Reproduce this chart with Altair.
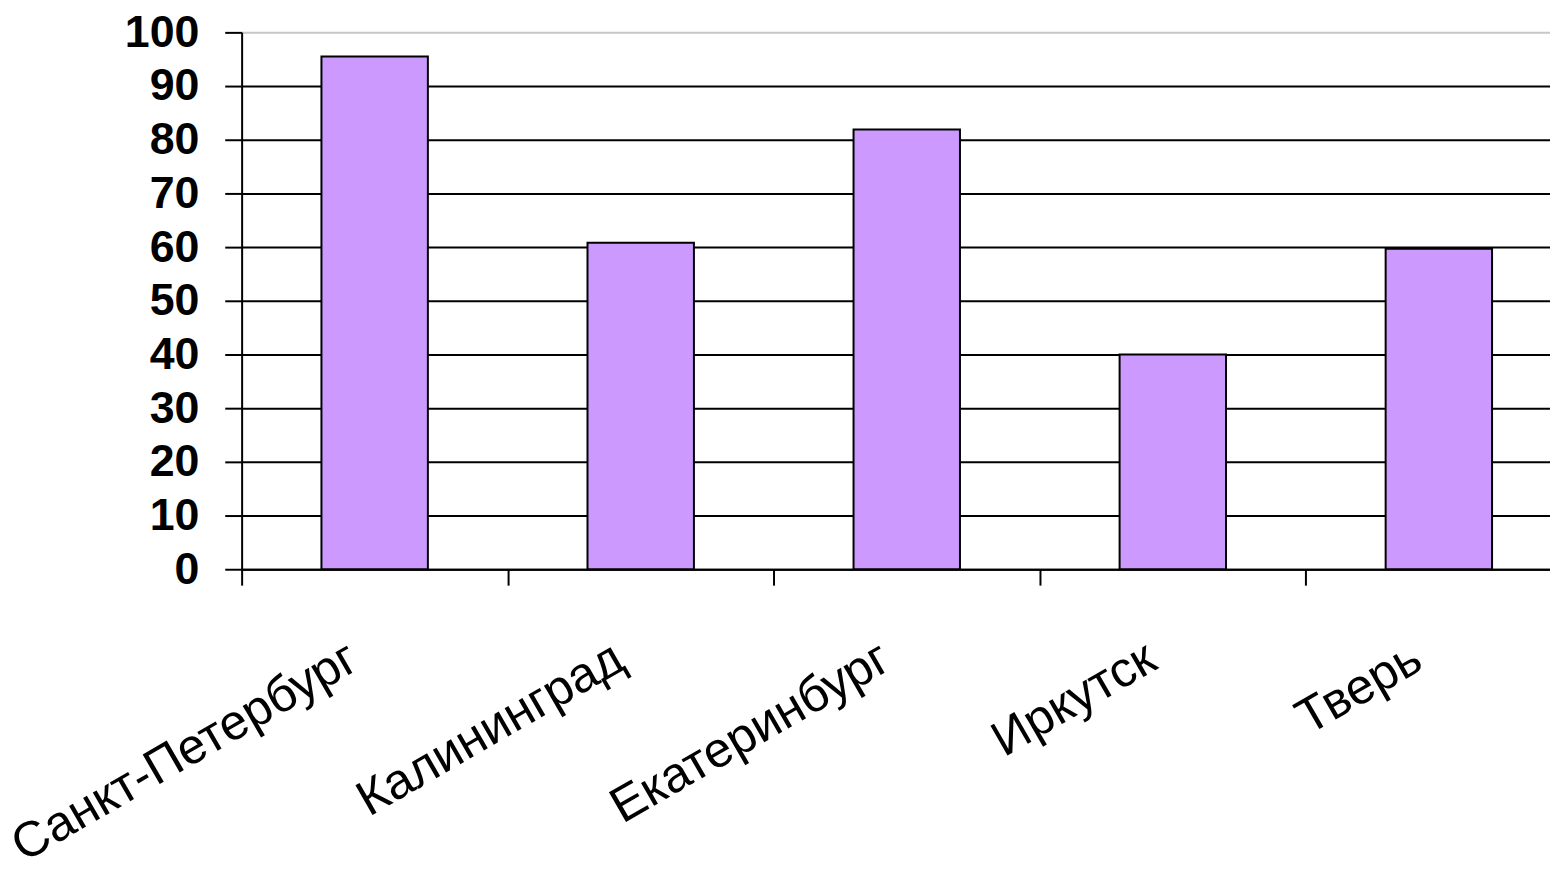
import altair as alt
import pandas as pd

cities = ["Санкт-Петербург", "Калининград", "Екатеринбург", "Иркутск", "Тверь"]
values = [95.5, 60.8, 81.9, 40.0, 59.7]
y_ticks = [0, 10, 20, 30, 40, 50, 60, 70, 80, 90, 100]

df = pd.DataFrame({"city": cities, "value": values})

bars = alt.Chart(df).mark_bar(
    color="#CC99FF", stroke="black", strokeWidth=2,
    width=alt.RelativeBandSize(0.4)
).encode(
    x=alt.X("city:N", sort=cities, title=None,
            scale=alt.Scale(paddingInner=0, paddingOuter=0, range=[0, 1338]),
            axis=alt.Axis(tickBand="extent", labelAngle=-30, labelAlign="right",
                          labelBaseline="top", labelOffset=-34, labelPadding=48,
                          labelFont="Liberation Sans", labelFontSize=50,
                          labelColor="black", tickColor="black", tickSize=16,
                          tickWidth=2, domainColor="black", domainWidth=2,
                          grid=False, labelLimit=0)),
    y=alt.Y("value:Q", title=None,
            scale=alt.Scale(domain=[0, 100], nice=False),
            axis=alt.Axis(values=y_ticks, labelFont="Liberation Sans",
                          labelFontWeight="bold", labelFontSize=45,
                          labelColor="black", labelPadding=26,
                          tickSize=17, tickColor="black", tickWidth=2,
                          domainColor="black", domainWidth=2,
                          grid=True, gridWidth=2,
                          gridColor=alt.condition("datum.value == 100",
                                                  alt.value("#c8c8c8"),
                                                  alt.value("black")))),
).properties(
    width=1316, height=540,
    autosize=alt.AutoSizeParams(type="none"),
    padding={"left": 235, "top": 22, "right": 0, "bottom": 298},
).configure_view(stroke=None).configure(background="white")

bars.save("out.html", embed_options={"renderer": "svg", "actions": False})
